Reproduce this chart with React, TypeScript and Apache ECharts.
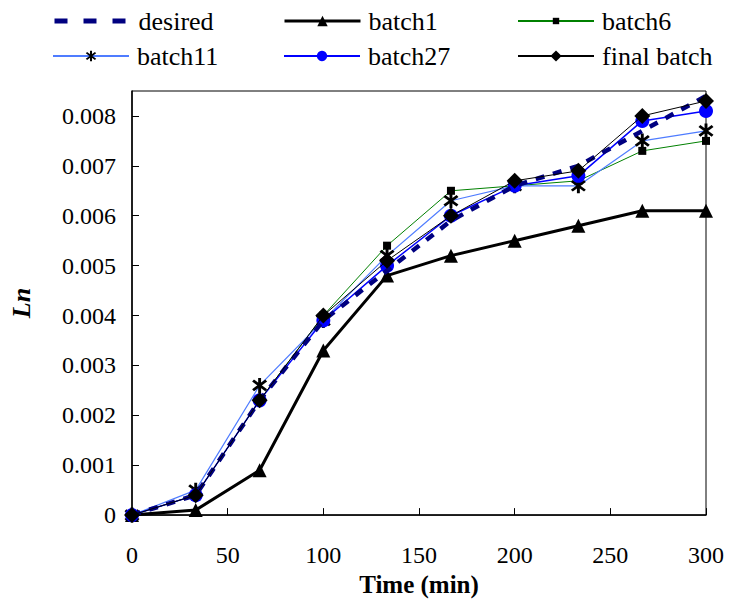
import React, { useEffect, useRef } from 'react';
import * as echarts from 'echarts';

const timeMin = [0, 33.3, 66.7, 100, 133.3, 166.7, 200, 233.3, 266.7, 300];
const desired = [0, 0.0004, 0.0023, 0.0039, 0.0049, 0.0059, 0.0066, 0.007, 0.0077, 0.0084];
const batch1 = [0, 0.0001, 0.0009, 0.0033, 0.0048, 0.0052, 0.0055, 0.0058, 0.0061, 0.0061];
const batch6 = [0, 0.0004, 0.0023, 0.004, 0.0054, 0.0065, 0.0066, 0.0067, 0.0073, 0.0075];
const batch11 = [0, 0.0005, 0.0026, 0.0039, 0.0052, 0.0063, 0.0066, 0.0066, 0.0075, 0.0077];
const batch27 = [0, 0.0004, 0.0023, 0.0039, 0.005, 0.006, 0.0066, 0.0068, 0.0079, 0.0081];
const finalBatch = [0, 0.0004, 0.0023, 0.004, 0.0051, 0.006, 0.0067, 0.0069, 0.008, 0.0083];
const legendOrder = ['desired', 'batch1', 'batch6', 'batch11', 'batch27', 'final batch'];

const FONT = "'Liberation Serif', 'Times New Roman', serif";

function bar(angleDeg: number, L: number, w: number): string {
  const a = (angleDeg * Math.PI) / 180;
  const dx = Math.sin(a);
  const dy = -Math.cos(a);
  const p = [
    [L * dx - w * dy, L * dy + w * dx],
    [L * dx + w * dy, L * dy - w * dx],
    [-L * dx + w * dy, -L * dy - w * dx],
    [-L * dx - w * dy, -L * dy + w * dx],
  ];
  return `M${p[0][0].toFixed(2)},${p[0][1].toFixed(2)}L${p[1][0].toFixed(2)},${p[1][1].toFixed(2)}L${p[2][0].toFixed(2)},${p[2][1].toFixed(2)}L${p[3][0].toFixed(2)},${p[3][1].toFixed(2)}Z`;
}
const asterisk = 'path://' + bar(0, 10, 1.7) + bar(50, 10, 1.7) + bar(-50, 10, 1.7);

const pairs = (ys: number[]) => timeMin.map((t, i) => [t, ys[i]]);

export default function App() {
  const ref = useRef<HTMLDivElement>(null);
  useEffect(() => {
    if (!ref.current) return;
    const chart = echarts.init(ref.current, null, { renderer: 'svg' });
    const cfg = [
      { left: 52, cy: 23, h: 10, extra: { itemStyle: { opacity: 0 }, lineStyle: { width: 5, type: [13, 16] } } },
      { left: 283, cy: 23, h: 13, extra: { lineStyle: { width: 3 } } },
      { left: 517, cy: 23, h: 8, extra: {} },
      { left: 52, cy: 58, h: 13, extra: {} },
      { left: 283, cy: 58, h: 13, extra: {} },
      { left: 517, cy: 58, h: 14, extra: {} },
    ];
    chart.setOption({
      animation: false,
      backgroundColor: '#fff',
      textStyle: { fontFamily: FONT },
      legend: legendOrder.map((n, i) => ({
        data: [{ name: n, ...(cfg[i].extra as any) }],
        left: cfg[i].left,
        top: cfg[i].cy - 15,
        padding: 0,
        itemWidth: 76,
        itemHeight: cfg[i].h,
        selectedMode: false,
        textStyle: { fontFamily: FONT, fontSize: 26, color: '#000', padding: [0, 0, 0, 3] },
      })),
      grid: {
        left: 124,
        right: 43,
        top: 91,
        bottom: 82,
        show: true,
        borderColor: '#000',
        borderWidth: 1,
        backgroundColor: 'transparent',
      },
      xAxis: {
        type: 'value',
        min: 0,
        max: 300,
        interval: 50,
        name: 'Time (min)',
        nameLocation: 'middle',
        nameGap: 52,
        nameTextStyle: { fontFamily: FONT, fontSize: 25, fontWeight: 'bold', color: '#000' },
        axisLine: { show: true, onZero: false, lineStyle: { color: '#000', width: 1.5 } },
        axisTick: { show: true, inside: true, length: 7, lineStyle: { color: '#000' } },
        axisLabel: { fontFamily: FONT, fontSize: 24, color: '#000', margin: 28 },
        splitLine: { show: false },
      },
      yAxis: {
        type: 'value',
        min: 0,
        max: 0.0085,
        interval: 0.001,
        name: 'Ln',
        nameLocation: 'middle',
        nameGap: 98,
        nameRotate: 90,
        nameTextStyle: { fontFamily: FONT, fontSize: 26, fontWeight: 'bold', fontStyle: 'italic', color: '#000' },
        axisLine: { show: true, lineStyle: { color: '#000', width: 1.5 } },
        axisTick: { show: true, inside: true, length: 7, lineStyle: { color: '#000' } },
        axisLabel: {
          fontFamily: FONT,
          fontSize: 24,
          color: '#000',
          margin: 16,
          showMaxLabel: false,
          formatter: (v: number) => (v === 0 ? '0' : v > 0.00801 ? '' : v.toFixed(3)),
        },
        splitLine: { show: false },
      },
      series: [
        {
          name: 'batch1',
          type: 'line',
          data: pairs(batch1),
          symbol: 'triangle',
          symbolSize: 14,
          lineStyle: { color: '#000', width: 3 },
          itemStyle: { color: '#000' },
          z: 2,
        },
        {
          name: 'batch6',
          type: 'line',
          data: pairs(batch6),
          symbol: 'rect',
          symbolSize: 8,
          lineStyle: { color: '#008000', width: 1 },
          itemStyle: { color: '#000' },
          z: 3,
        },
        {
          name: 'batch11',
          type: 'line',
          data: pairs(batch11),
          symbol: asterisk,
          symbolSize: 15,
          lineStyle: { color: '#4f7cff', width: 1.2 },
          itemStyle: { color: '#000' },
          z: 4,
        },
        {
          name: 'batch27',
          type: 'line',
          data: pairs(batch27),
          symbol: 'circle',
          symbolSize: 14,
          lineStyle: { color: '#0000ff', width: 1.5 },
          itemStyle: { color: '#0000ff' },
          z: 5,
        },
        {
          name: 'desired',
          type: 'line',
          data: pairs(desired),
          symbol: 'none',
          showSymbol: false,
          lineStyle: { color: '#000080', width: 4.5, type: [9, 9] },
          itemStyle: { color: '#000080' },
          z: 6,
        },
        {
          name: 'final batch',
          type: 'line',
          data: pairs(finalBatch),
          symbol: 'diamond',
          symbolSize: 16,
          lineStyle: { color: '#000', width: 1 },
          itemStyle: { color: '#000' },
          z: 7,
        },
      ],
    });
    return () => chart.dispose();
  }, []);
  return (
    <div
      ref={ref}
      style={{ position: 'fixed', left: 0, top: 0, width: 749, height: 602, background: '#fff' }}
    />
  );
}
